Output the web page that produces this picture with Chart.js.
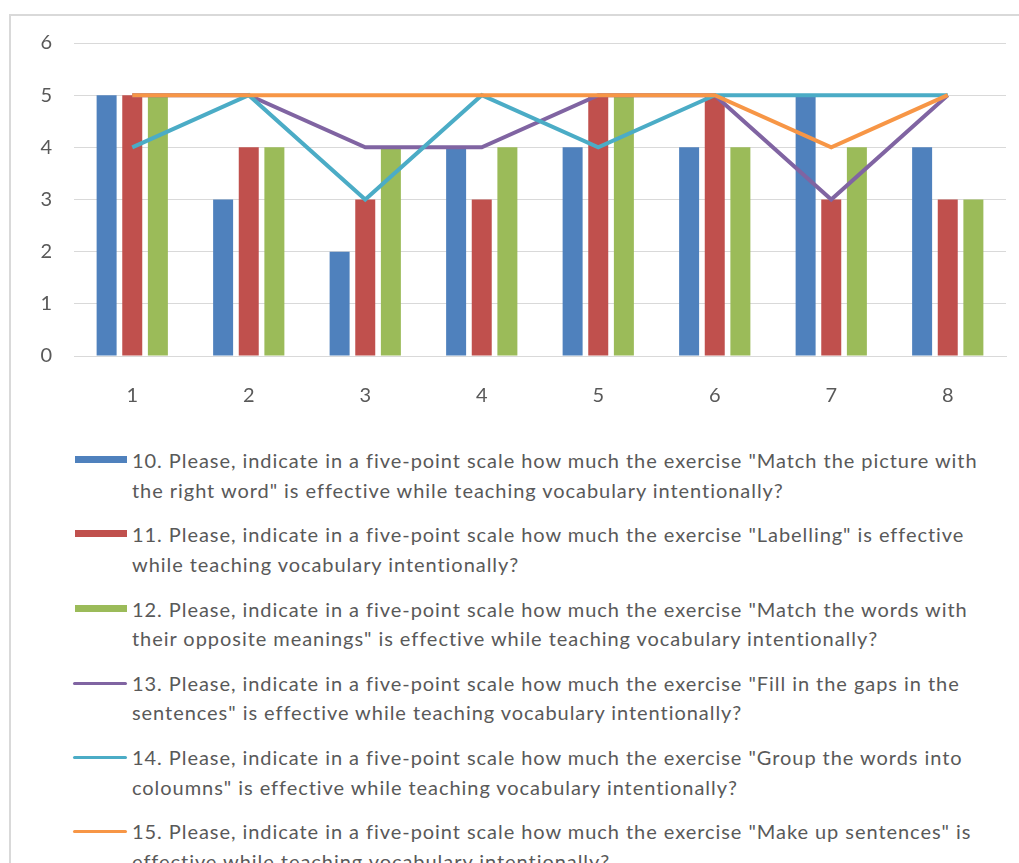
<!DOCTYPE html>
<html>
<head>
<meta charset="utf-8">
<script src="https://cdn.jsdelivr.net/npm/chart.js@4/dist/chart.umd.min.js"></script>
<style>
    body { margin: 0; background: #fff; overflow: hidden; width: 1019px; height: 863px; position: relative; }
    .frame { position: absolute; left: 9px; top: 14px; width: 1100px; height: 1000px; border: 2px solid #d9d9d9; }
    #chartBox { position: absolute; left: 0; top: 0; width: 1019px; height: 420px; }
    #legend { position: absolute; left: 0; top: 446px; width: 1019px; font-family: Lato, sans-serif; font-size: 20px; letter-spacing: 0.95px; color: #595959; }
    .item { position: relative; height: 59px; margin-bottom: 15.3px; }
    .item .text { position: absolute; left: 132px; top: 0; line-height: 29.5px; white-space: pre; }
    .item .swatch { position: absolute; left: 75px; }
</style>
</head>
<body>
<div class="frame"></div>
<div id="chartBox"><canvas id="mixChart" width="1019" height="420"></canvas></div>
<div id="legend"></div>
<script>
const categories = ['1', '2', '3', '4', '5', '6', '7', '8'];

const q10 = [5, 3, 2, 4, 4, 4, 5, 4];
const q11 = [5, 4, 3, 3, 5, 5, 3, 3];
const q12 = [5, 4, 4, 4, 5, 4, 4, 3];
const q13 = [5, 5, 4, 4, 5, 5, 3, 5];
const q14 = [4, 5, 3, 5, 4, 5, 5, 5];
const q15 = [5, 5, 5, 5, 5, 5, 4, 5];

const yTicks = [0, 1, 2, 3, 4, 5, 6];

const seriesLabels = [
    '10. Please, indicate in a five-point scale how much the exercise "Match the picture with\nthe right word" is effective while teaching vocabulary intentionally?',
    '11. Please, indicate in a five-point scale how much the exercise "Labelling" is effective\nwhile teaching vocabulary intentionally?',
    '12. Please, indicate in a five-point scale how much the exercise "Match the words with\ntheir opposite meanings" is effective while teaching vocabulary intentionally?',
    '13. Please, indicate in a five-point scale how much the exercise "Fill in the gaps in the\nsentences" is effective while teaching vocabulary intentionally?',
    '14. Please, indicate in a five-point scale how much the exercise "Group the words into\ncoloumns" is effective while teaching vocabulary intentionally?',
    '15. Please, indicate in a five-point scale how much the exercise "Make up sentences" is\neffective while teaching vocabulary intentionally?'
];

const colors = ['#4F81BD', '#C0504D', '#9BBB59', '#8064A2', '#4BACC6', '#F79646'];

function barSet(i, values) {
    return {
        type: 'bar',
        label: seriesLabels[i],
        data: values,
        backgroundColor: colors[i],
        categoryPercentage: 0.66,
        barPercentage: 0.78,
        order: 10
    };
}

// lower order is drawn on top, so the last line ends up uppermost
function lineSet(i, values) {
    return {
        type: 'line',
        label: seriesLabels[i],
        data: values,
        borderColor: colors[i],
        backgroundColor: colors[i],
        borderWidth: 4,
        pointRadius: 0,
        tension: 0,
        fill: false,
        order: 6 - i
    };
}

const tickFont = { family: 'Lato, sans-serif', size: 20 };

const chart = new Chart(document.getElementById('mixChart'), {
    data: {
        labels: categories,
        datasets: [
            barSet(0, q10),
            barSet(1, q11),
            barSet(2, q12),
            lineSet(3, q13),
            lineSet(4, q14),
            lineSet(5, q15)
        ]
    },
    options: {
        responsive: false,
        animation: false,
        layout: { padding: { top: 43, right: 13, left: 0, bottom: 0 } },
        plugins: {
            legend: { display: false },
            tooltip: { enabled: false }
        },
        scales: {
            x: {
                grid: { display: false, drawTicks: false },
                border: { color: '#d9d9d9', width: 1 },
                ticks: { color: '#595959', font: tickFont, padding: 28 },
                afterFit: scale => { scale.height = 64; }
            },
            y: {
                min: 0,
                max: 6,
                afterBuildTicks: scale => { scale.ticks = yTicks.map(v => ({ value: v })); },
                grid: { color: '#d9d9d9', lineWidth: 1, drawTicks: false },
                border: { display: false },
                ticks: { color: '#595959', font: tickFont, padding: 22 },
                afterFit: scale => { scale.width = 74; }
            }
        }
    }
});

// html legend, built from the datasets
const legendBox = document.getElementById('legend');
chart.data.datasets.forEach(ds => {
    const item = document.createElement('div');
    item.className = 'item';
    const swatch = document.createElement('div');
    swatch.className = 'swatch';
    if (ds.type === 'bar') {
        swatch.style.cssText = `left:75px;top:10px;width:52px;height:7px;background:${ds.backgroundColor}`;
    } else {
        swatch.style.cssText = `left:73px;top:13px;width:54px;height:3px;border-radius:2px;background:${ds.borderColor}`;
    }
    const text = document.createElement('div');
    text.className = 'text';
    text.textContent = ds.label;
    item.appendChild(swatch);
    item.appendChild(text);
    legendBox.appendChild(item);
});
</script>
</body>
</html>
